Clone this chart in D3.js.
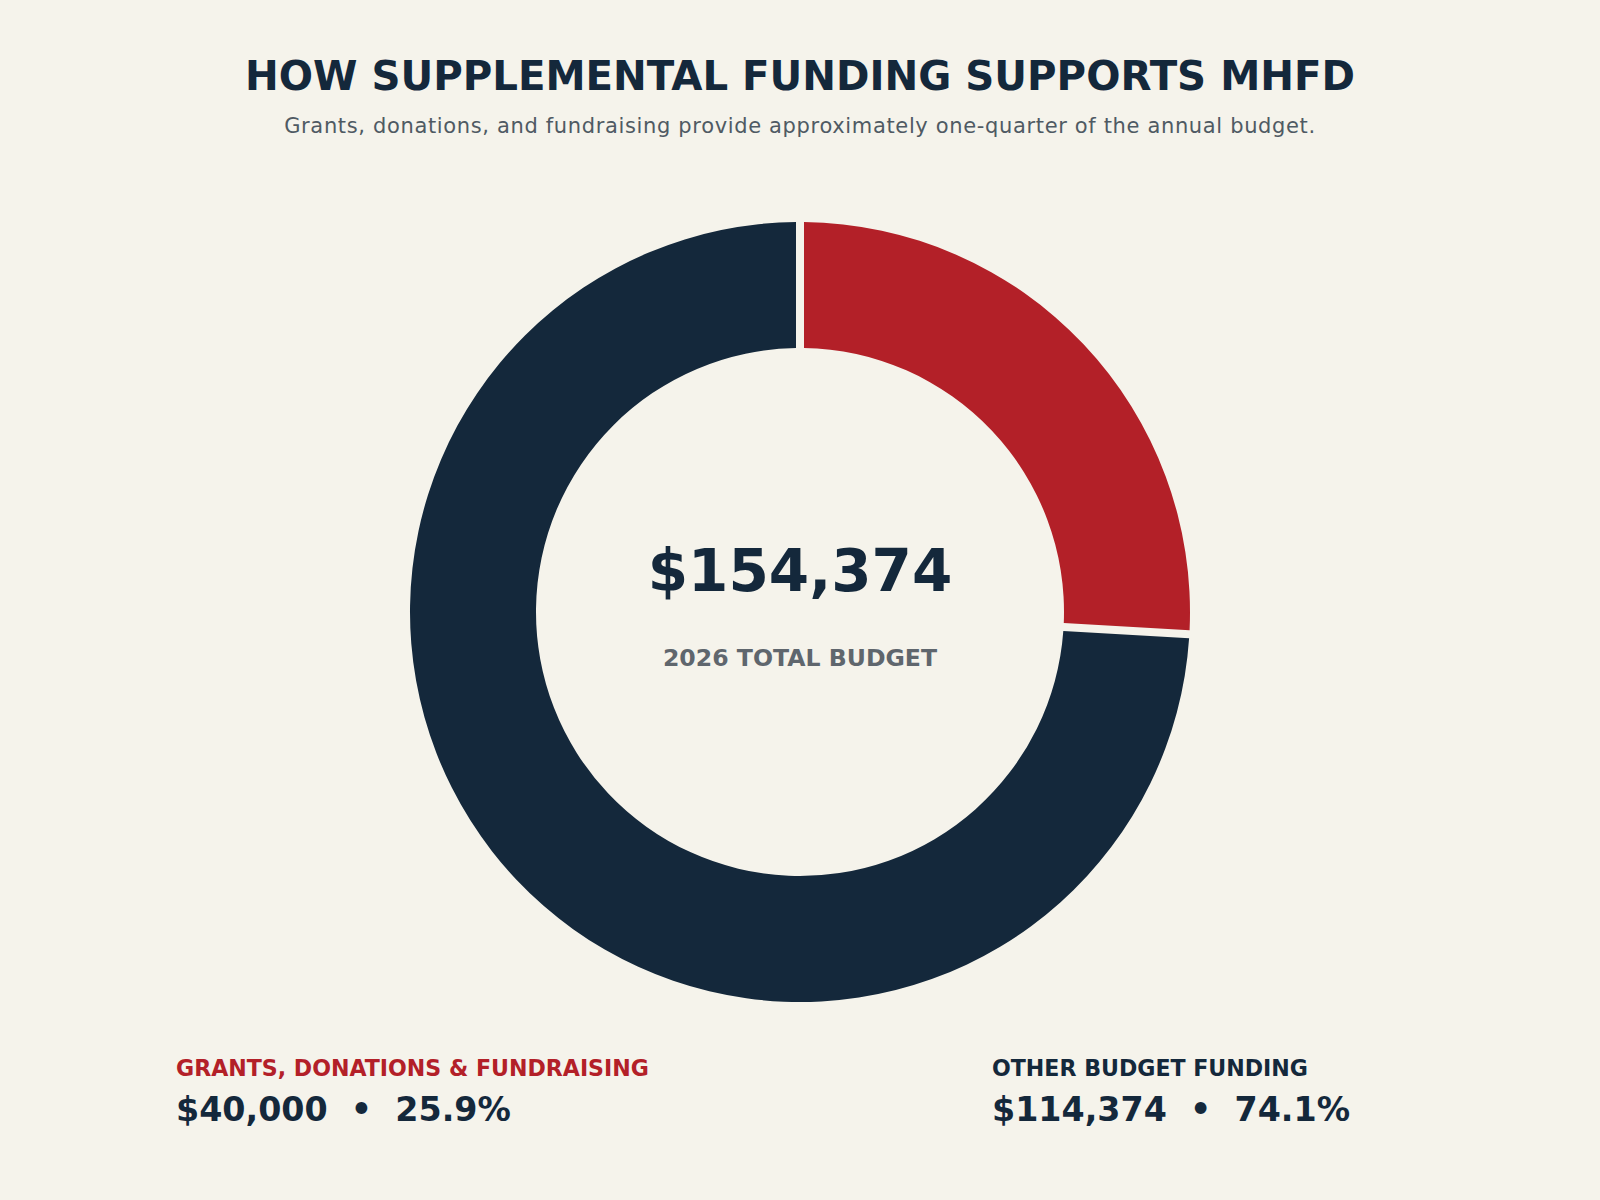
<!DOCTYPE html>
<html>
<head>
<meta charset="utf-8">
<style>
  body { margin: 0; background: #f5f3eb; }
  svg { display: block; font-family: "DejaVu Sans", sans-serif; }
</style>
</head>
<body>
<svg width="1600" height="1200"></svg>
<script src="https://cdn.jsdelivr.net/npm/d3@7"></script>
<script>

var labels = ["GRANTS, DONATIONS & FUNDRAISING", "OTHER BUDGET FUNDING"],
    values = [40000, 114374],
    colors = ["#b32028", "#14283b"];

var svg = d3.select("svg"),
    width = +svg.attr("width"),
    height = +svg.attr("height"),
    cx = 800,
    cy = 612,
    outer = 390,
    inner = 264;

var total = d3.sum(values),
    money = d3.format("$,"),
    pct = d3.format(".1%");

svg.append("rect").attr("width", width).attr("height", height).attr("fill", "#f5f3eb");

svg.append("text")
    .attr("x", width / 2).attr("y", 90)
    .attr("text-anchor", "middle")
    .attr("font-size", 40.3).attr("font-weight", "bold")
    .attr("fill", "#14283b")
    .text("HOW SUPPLEMENTAL FUNDING SUPPORTS MHFD");

svg.append("text")
    .attr("x", width / 2).attr("y", 133)
    .attr("text-anchor", "middle")
    .attr("font-size", 21)
    .attr("letter-spacing", 0.65)
    .attr("fill", "#4f5a63")
    .text("Grants, donations, and fundraising provide approximately one-quarter of the annual budget.");

var pie = d3.pie().sort(null).value(function(d) { return d; });

var arc = d3.arc()
    .innerRadius(inner)
    .outerRadius(outer)
    .padRadius(outer)
    .padAngle(8 / outer);

var g = svg.append("g").attr("transform", "translate(" + cx + "," + cy + ")");

g.selectAll("path")
    .data(pie(values))
  .enter().append("path")
    .attr("d", arc)
    .attr("fill", function(d, i) { return colors[i]; });

g.append("text")
    .attr("y", -21)
    .attr("text-anchor", "middle")
    .attr("font-size", 58).attr("font-weight", "bold")
    .attr("fill", "#14283b")
    .text(money(total));

g.append("text")
    .attr("y", 54)
    .attr("text-anchor", "middle")
    .attr("font-size", 23.6).attr("font-weight", "bold")
    .attr("fill", "#5f666d")
    .text("2026 TOTAL BUDGET");

var legendX = [176, 992];

var legend = svg.selectAll(".legend")
    .data(values)
  .enter().append("g")
    .attr("class", "legend")
    .attr("transform", function(d, i) { return "translate(" + legendX[i] + ",0)"; });

legend.append("text")
    .attr("y", 1076)
    .attr("font-size", 22.1).attr("font-weight", "bold")
    .attr("fill", function(d, i) { return colors[i]; })
    .text(function(d, i) { return labels[i]; });

legend.append("text")
    .attr("y", 1121)
    .attr("font-size", 33.3).attr("font-weight", "bold")
    .attr("fill", "#14283b")
    .attr("xml:space", "preserve")
    .text(function(d) { return money(d) + "  \u2022  " + pct(d / total); });

</script>
</body>
</html>
